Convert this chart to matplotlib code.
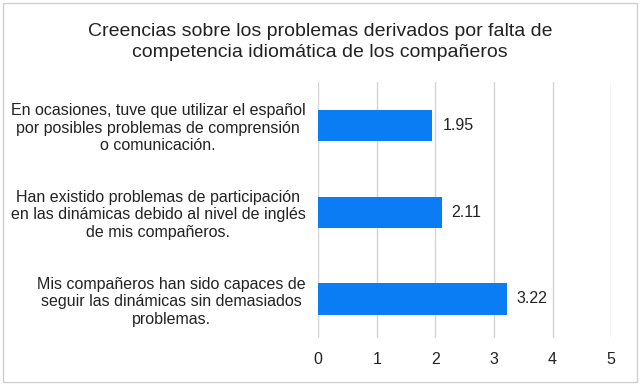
import matplotlib.pyplot as plt
from matplotlib.patches import Rectangle

# Data
items = ['En ocasiones, tuve que utilizar el español\npor posibles problemas de comprensión\no comunicación.',
         'Han existido problemas de participación\nen las dinámicas debido al nivel de inglés\nde mis compañeros.',
         'Mis compañeros han sido capaces de\nseguir las dinámicas sin demasiados\nproblemas.']
values = [1.95, 2.11, 3.22]
title = 'Creencias sobre los problemas derivados por falta de\ncompetencia idiomática de los compañeros'

plt.rcParams['font.family'] = ['Liberation Sans', 'DejaVu Sans']

fig = plt.figure(figsize=(6.4, 3.85), dpi=100)
ax = fig.add_axes([0.497, 0.122, 0.458, 0.665])

pos = list(range(len(items)))
ax.barh(pos, values, height=0.36, color='#0a7cf4', zorder=3)
for p, v in zip(pos, values):
    ax.text(v + 0.17, p, f'{v:.2f}', va='center', ha='left', fontsize=11.5, color='#222222')

ax.set_xlim(0, 5)
ax.set_ylim(2.45, -0.5)
ax.set_xticks(range(6))
ax.set_yticks(pos)
ax.set_yticklabels(items, multialignment='center', fontsize=11.5, color='#222222')
ax.tick_params(axis='y', length=0, pad=9)
ax.tick_params(axis='x', length=0, pad=10, labelsize=11.5, labelcolor='#222222')
ax.grid(axis='x', color='#d4d4d4', linewidth=1, zorder=0)
for s in ax.spines.values():
    s.set_visible(False)

fig.text(0.5, 0.892, title, ha='center', va='center', fontsize=14, color='#222222',
         linespacing=1.3)

# light border round the whole chart
fig.patches.append(Rectangle((0.005, 0.008), 0.99, 0.984, transform=fig.transFigure,
                             fill=False, edgecolor='#d0d0d0', linewidth=1))

fig.savefig('out.png', dpi=100)
